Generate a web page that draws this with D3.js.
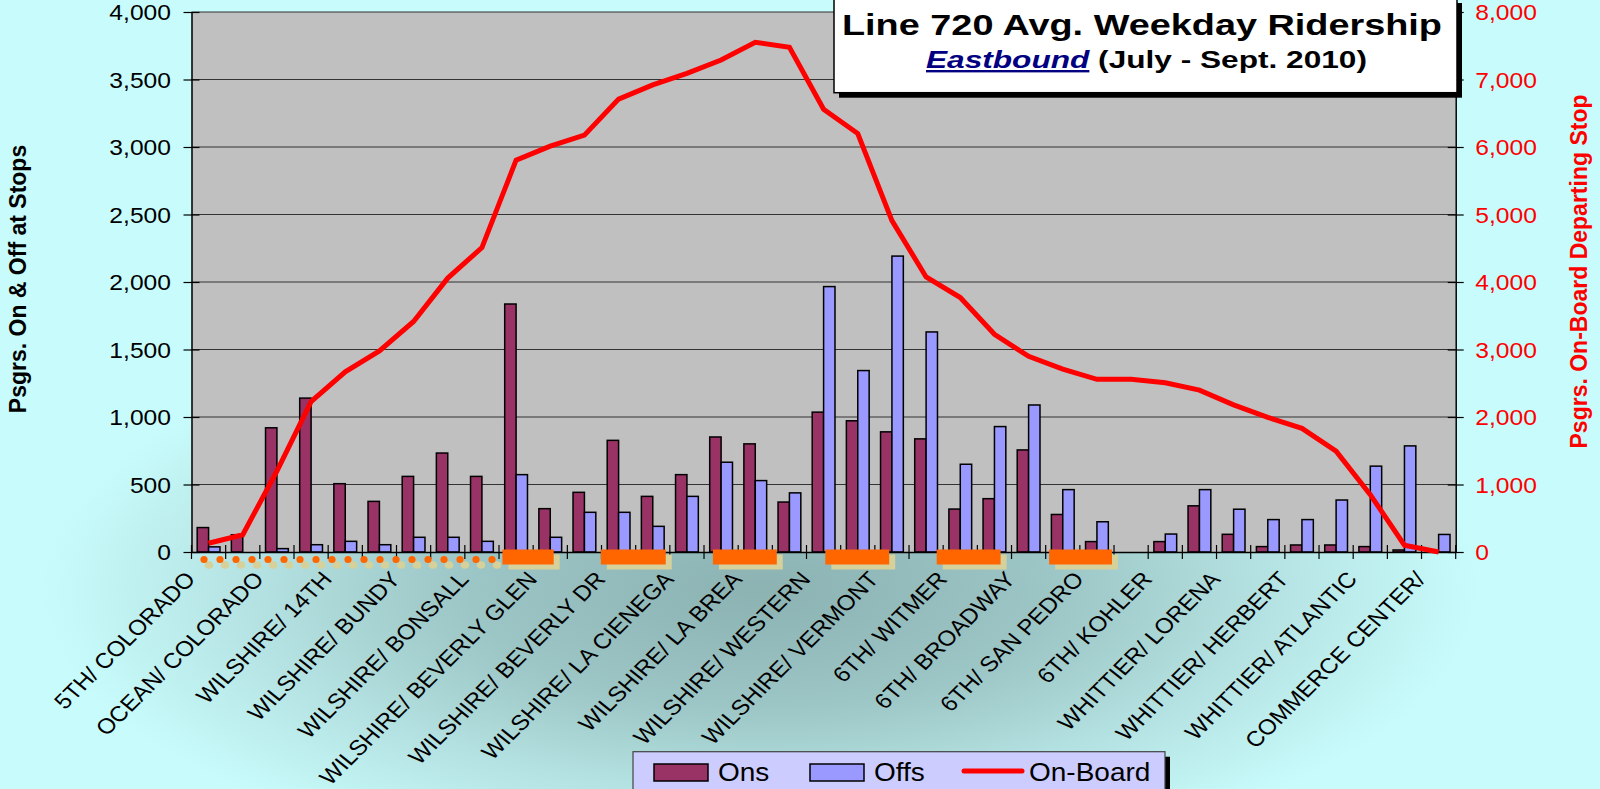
<!DOCTYPE html>
<html>
<head>
<meta charset="utf-8">
<script src="https://cdn.jsdelivr.net/npm/d3@7"></script>
<style>
  html, body { margin: 0; padding: 0; background: #c8fcfc; }
  svg { display: block; font-family: "Liberation Sans", Arial, sans-serif; }
</style>
</head>
<body>
<div id="chart"></div>
<script>
// stops along the route, eastbound (only every other one is labelled on the axis)
const categories = [
  "5TH/ COLORADO", "4TH/ COLORADO", "OCEAN/ COLORADO", "WILSHIRE/ 4TH", "WILSHIRE/ 14TH",
  "WILSHIRE/ 26TH", "WILSHIRE/ BUNDY", "WILSHIRE/ BARRINGTON", "WILSHIRE/ BONSALL", "WILSHIRE/ WESTWOOD",
  "WILSHIRE/ BEVERLY GLEN", "WILSHIRE/ SANTA MONICA", "WILSHIRE/ BEVERLY DR", "WILSHIRE/ ROBERTSON", "WILSHIRE/ LA CIENEGA",
  "WILSHIRE/ FAIRFAX", "WILSHIRE/ LA BREA", "WILSHIRE/ CRENSHAW", "WILSHIRE/ WESTERN", "WILSHIRE/ NORMANDIE",
  "WILSHIRE/ VERMONT", "WILSHIRE/ ALVARADO", "6TH/ WITMER", "6TH/ FLOWER", "6TH/ BROADWAY",
  "6TH/ MAIN", "6TH/ SAN PEDRO", "6TH/ CENTRAL", "6TH/ KOHLER", "WHITTIER/ SOTO",
  "WHITTIER/ LORENA", "WHITTIER/ INDIANA", "WHITTIER/ HERBERT", "WHITTIER/ EASTERN", "WHITTIER/ ATLANTIC",
  "WHITTIER/ GARFIELD", "COMMERCE CENTER/"
];
const ons = [181, 128, 920, 1140, 506, 375, 560, 733, 560, 1837, 321, 442, 827, 412, 573, 852, 801, 370, 1036,
  972, 890, 838, 318, 395, 756, 278, 77, 0, 77, 342, 131, 40, 52, 52, 40, 15, 0];
const offs = [38, 0, 25, 54, 79, 54, 109, 109, 79, 573, 109, 294, 294, 190, 412, 665, 529, 438, 1966,
  1344, 2192, 1630, 650, 929, 1089, 462, 224, 0, 133, 462, 317, 240, 240, 385, 636, 786, 130];
const onBoard = [130, 255, 1200, 2228, 2670, 2978, 3415, 4058, 4510, 5805, 6012, 6175, 6710, 6920, 7092, 7289, 7551,
  7478, 6560, 6200, 4910, 4075, 3770, 3225, 2900, 2710, 2558, 2558, 2508, 2398, 2180, 1995, 1832, 1495, 850, 100, 0];
const leftTicks = [0, 500, 1000, 1500, 2000, 2500, 3000, 3500, 4000];
const rightTicks = [0, 1000, 2000, 3000, 4000, 5000, 6000, 7000, 8000];
const seriesNames = ["Ons", "Offs", "On-Board"];
const titleText = "Line 720 Avg. Weekday Ridership";
const subtitleDir = "Eastbound";
const subtitleRest = " (July - Sept. 2010)";
const leftTitle = "Psgrs. On & Off at Stops";
const rightTitle = "Psgrs. On-Board Departing Stop";
// decorative rail segments under the axis, in stop units
const railSegments = [[9.1, 10.6], [11.98, 13.88], [15.26, 17.13], [18.55, 20.42], [21.81, 23.68], [25.1, 26.94]];

const W = 1600, H = 789;
const plotLeft = 191.5, plotRight = 1455.7, plotTop = 12, plotBottom = 552;
const SX = 1.12; // the picture's text is a bit wide
const onsColor = "#993366", offsColor = "#9999ff", lineColor = "#ff0000";

const svg = d3.select("#chart").append("svg").attr("width", W).attr("height", H);

// page background
const defs = svg.append("defs");
const grad = defs.append("radialGradient").attr("id", "bg")
  .attr("gradientUnits", "userSpaceOnUse")
  .attr("cx", 760).attr("cy", 590).attr("r", 720)
  .attr("gradientTransform", "translate(0,354) scale(1,0.4)");
[[0, "#8cb2b2"], [0.4, "#9cc5c5"], [0.75, "#b8e6e6"], [1, "#c8fcfc"]].forEach(s =>
  grad.append("stop").attr("offset", s[0]).attr("stop-color", s[1]));
svg.append("rect").attr("width", W).attr("height", H).attr("fill", "url(#bg)");

// scales
const x = d3.scaleBand().domain(categories).range([plotLeft, plotRight]).padding(0);
const sub = d3.scaleBand().domain(["ons", "offs"]).range([0, x.bandwidth()]).paddingInner(0).paddingOuter(0.5);
const yL = d3.scaleLinear().domain([0, 4000]).range([plotBottom, plotTop]);
const yR = d3.scaleLinear().domain([0, 8000]).range([plotBottom, plotTop]);
const cx = c => x(c) + x.bandwidth() / 2;

// plot area
svg.append("rect").attr("x", plotLeft).attr("y", plotTop)
  .attr("width", plotRight - plotLeft).attr("height", plotBottom - plotTop).attr("fill", "#c0c0c0");

svg.append("g").selectAll("line").data(leftTicks.slice(1)).join("line")
  .attr("x1", plotLeft).attr("x2", plotRight)
  .attr("y1", d => yL(d)).attr("y2", d => yL(d))
  .attr("stroke", "#333").attr("stroke-width", 1.2);

// bars
const bars = svg.append("g").attr("stroke", "#000").attr("stroke-width", 1.5);
bars.selectAll(".ons").data(ons).join("rect").attr("class", "ons")
  .attr("x", (d, i) => x(categories[i]) + sub("ons")).attr("width", sub.bandwidth())
  .attr("y", d => yL(d)).attr("height", d => plotBottom - yL(d))
  .attr("fill", onsColor).attr("display", d => d > 0 ? null : "none");
bars.selectAll(".offs").data(offs).join("rect").attr("class", "offs")
  .attr("x", (d, i) => x(categories[i]) + sub("offs")).attr("width", sub.bandwidth())
  .attr("y", d => yL(d)).attr("height", d => plotBottom - yL(d))
  .attr("fill", offsColor).attr("display", d => d > 0 ? null : "none");

// x axis
const xAxis = svg.append("g").attr("transform", `translate(0,${plotBottom})`)
  .call(d3.axisBottom(x).tickValues(categories.filter((c, i) => i % 2 === 0)).tickSize(0).tickSizeOuter(0));
xAxis.attr("font-size", null).attr("font-family", null);
xAxis.select(".domain").attr("stroke", "#000").attr("stroke-width", 1.5);
xAxis.selectAll(".tick text")
  .attr("y", null).attr("dy", null)
  .attr("text-anchor", "end").attr("font-size", 21.5).attr("fill", "#000")
  .attr("transform", `translate(-12,28) scale(${SX},1) rotate(-48)`);
svg.append("g").selectAll("line").data(categories.map(c => x(c)).concat([plotRight])).join("line")
  .attr("x1", d => d).attr("x2", d => d).attr("y1", plotBottom - 7).attr("y2", plotBottom + 7)
  .attr("stroke", "#000").attr("stroke-width", 1.2);

// decorations under the axis (drawn over the axis line, as in the picture)
const dotStart = plotLeft + 12.5, dotEnd = x(categories[9]) - 7;
const dots = d3.range(19).map(i => dotStart + i * (dotEnd - dotStart) / 18);
const deco = svg.append("g");
deco.selectAll(".dshadow").data(dots).join("ellipse").attr("class", "dshadow")
  .attr("cx", d => d + 5).attr("cy", plotBottom + 13).attr("rx", 4.2).attr("ry", 3.8).attr("fill", "#d6d09a");
deco.selectAll(".dot").data(dots).join("circle").attr("class", "dot")
  .attr("cx", d => d).attr("cy", plotBottom + 7.5).attr("r", 3.6).attr("fill", "#ff6600");
const segX = v => plotLeft + v * x.step();
deco.selectAll(".rshadow").data(railSegments).join("rect").attr("class", "rshadow")
  .attr("x", d => segX(d[0]) + 6).attr("y", plotBottom + 2.5)
  .attr("width", d => segX(d[1]) - segX(d[0])).attr("height", 15).attr("fill", "#d6d09a");
deco.selectAll(".rail").data(railSegments).join("rect").attr("class", "rail")
  .attr("x", d => segX(d[0])).attr("y", plotBottom - 2.5)
  .attr("width", d => segX(d[1]) - segX(d[0])).attr("height", 15).attr("fill", "#ff6600");

// left axis
const lAxis = svg.append("g").attr("transform", `translate(${plotLeft},0)`)
  .call(d3.axisLeft(yL).tickValues(leftTicks).tickSize(8).tickSizeOuter(0).tickFormat(d3.format(",")));
lAxis.attr("font-size", null).attr("font-family", null);
lAxis.select(".domain").attr("stroke", "#000").attr("stroke-width", 1.5);
lAxis.selectAll(".tick line").attr("x1", 8).attr("stroke", "#000").attr("stroke-width", 1.2);
lAxis.selectAll(".tick text").attr("x", null).attr("dy", "0.36em")
  .attr("text-anchor", "end").attr("font-size", 22).attr("fill", "#000")
  .attr("transform", `translate(-20.5,0) scale(${SX},1)`);

// right axis
const rAxis = svg.append("g").attr("transform", `translate(${plotRight},0)`)
  .call(d3.axisRight(yR).tickValues(rightTicks).tickSize(8).tickSizeOuter(0).tickFormat(d3.format(",")));
rAxis.attr("font-size", null).attr("font-family", null);
rAxis.select(".domain").attr("stroke", "#000").attr("stroke-width", 1.5);
rAxis.selectAll(".tick line").attr("x1", -8).attr("stroke", "#000").attr("stroke-width", 1.2);
rAxis.selectAll(".tick text").attr("x", null).attr("dy", "0.36em")
  .attr("text-anchor", "start").attr("font-size", 22).attr("fill", lineColor)
  .attr("transform", `translate(19.5,0) scale(${SX},1)`);

// on-board line
const line = d3.line().x((d, i) => cx(categories[i])).y(d => yR(d));
svg.append("path").datum(onBoard).attr("d", line)
  .attr("fill", "none").attr("stroke", lineColor).attr("stroke-width", 5);

// axis titles
svg.append("text").attr("transform", `translate(25.5,279) rotate(-90)`)
  .attr("text-anchor", "middle").attr("font-size", 23).attr("font-weight", "bold").attr("fill", "#000")
  .text(leftTitle);
svg.append("text").attr("transform", `translate(1586.5,271.5) rotate(-90)`)
  .attr("text-anchor", "middle").attr("font-size", 23).attr("font-weight", "bold").attr("fill", lineColor)
  .text(rightTitle);

// title box
svg.append("rect").attr("x", 839).attr("y", 3).attr("width", 623).attr("height", 94.7).attr("fill", "#000");
svg.append("rect").attr("x", 834).attr("y", -2).attr("width", 623).attr("height", 94.7)
  .attr("fill", "#fff").attr("stroke", "#000").attr("stroke-width", 1.5);
svg.append("text").attr("x", 1142).attr("y", 35).attr("text-anchor", "middle")
  .attr("font-size", 30).attr("font-weight", "bold").attr("fill", "#000")
  .attr("textLength", 600).attr("lengthAdjust", "spacingAndGlyphs")
  .text(titleText);
const sub2 = svg.append("text").attr("x", 1146.5).attr("y", 68).attr("text-anchor", "middle")
  .attr("font-size", 24).attr("font-weight", "bold").attr("fill", "#000")
  .attr("textLength", 441).attr("lengthAdjust", "spacingAndGlyphs");
sub2.append("tspan").attr("font-style", "italic").attr("fill", "#000080")
  .attr("text-decoration", "underline").text(subtitleDir);
sub2.append("tspan").text(subtitleRest);

// legend
const lg = svg.append("g");
lg.append("rect").attr("x", 638).attr("y", 756.7).attr("width", 532).attr("height", 50).attr("fill", "#000");
lg.append("rect").attr("x", 633).attr("y", 751.7).attr("width", 532).attr("height", 50)
  .attr("fill", "#ccccff").attr("stroke", "#444").attr("stroke-width", 1.2);
const legendItems = [
  { name: seriesNames[0], kind: "bar", color: onsColor, x0: 654 },
  { name: seriesNames[1], kind: "bar", color: offsColor, x0: 810 },
  { name: seriesNames[2], kind: "line", color: lineColor, x0: 964 }
];
legendItems.forEach(it => {
  if (it.kind === "bar") {
    lg.append("rect").attr("x", it.x0).attr("y", 764).attr("width", 54).attr("height", 17)
      .attr("fill", it.color).attr("stroke", "#000").attr("stroke-width", 1.5);
  } else {
    lg.append("line").attr("x1", it.x0).attr("x2", it.x0 + 58).attr("y1", 771).attr("y2", 771)
      .attr("stroke", it.color).attr("stroke-width", 5).attr("stroke-linecap", "round");
  }
  lg.append("text").attr("transform", `translate(${it.kind === "bar" ? it.x0 + 64 : it.x0 + 65},781) scale(${SX},1)`)
    .attr("font-size", 25).attr("fill", "#000").text(it.name);
});
</script>
</body>
</html>
